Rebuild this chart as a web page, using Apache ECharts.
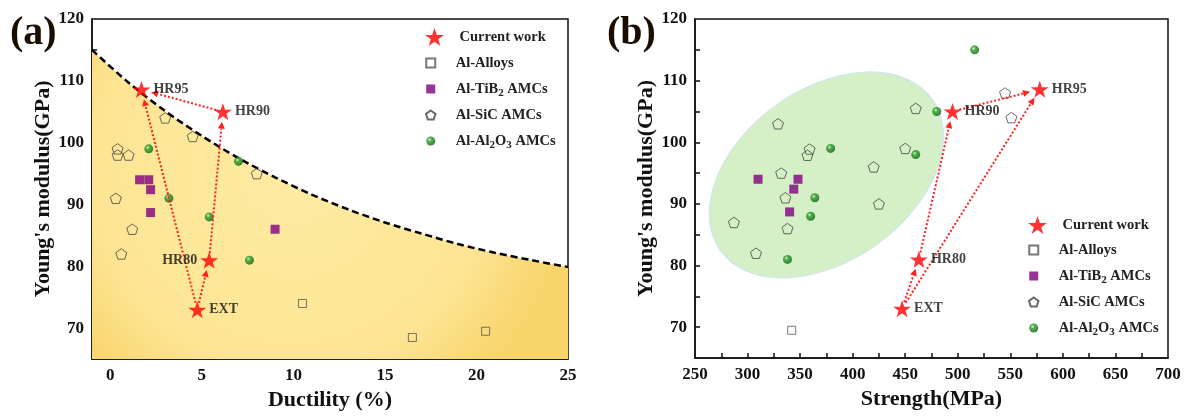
<!DOCTYPE html>
<html>
<head>
<meta charset="utf-8">
<script src="https://cdn.jsdelivr.net/npm/echarts@6/dist/echarts.min.js"></script>
<style>
  body { margin: 0; background: #fff; }
  #chart { width: 1187px; height: 416px; }
</style>
</head>
<body>
<div id="chart"></div>
<script>
// ---- data ----
// (a) ductility (%) vs Young's modulus (GPa)
const starNames = ['EXT', 'HR80', 'HR90', 'HR95']
const starDuct = [4.75, 5.4, 6.15, 1.7]
const starStrength = [447, 463, 495, 578]
const starModulus = [73, 81, 105, 108.6]

const alloyDuct = [10.5, 16.5, 20.5]
const alloyModA = [74, 68.5, 69.5]
const tib2Duct = [1.6, 2.1, 2.2, 2.2, 9.0]
const tib2ModA = [94, 94, 92.4, 88.7, 86]
const sicDuct = [0.4, 0.4, 1.0, 3.0, 4.5, 8.0, 0.3, 1.2, 0.6]
const sicModA = [99, 98, 98, 104, 101, 95, 91, 86, 82]
const al2o3Duct = [2.1, 7.0, 3.2, 5.4, 7.6]
const al2o3ModA = [99, 97, 91, 88, 81]

// dashed upper bound
const boundDuct = [-1, 1, 3, 5, 7, 9, 11, 13, 15, 17, 19, 21, 23, 25]
const boundMod = [115, 109.7, 105.1, 101.1, 97.5, 94.4, 91.6, 89.2, 87.1, 85.3, 83.6, 82.2, 81.0, 79.9]

// (b) strength (MPa) vs Young's modulus (GPa)
const alloyStr = [342]
const alloyModB = [69.5]
const tib2Str = [310, 348, 344, 340]
const tib2ModB = [94, 94, 92.4, 88.7]
const sicStr = [329, 359, 357, 332, 336, 420, 450, 460, 425, 287, 338, 308, 545, 551]
const sicModB = [103, 98.9, 97.9, 95, 91, 96, 99, 105.5, 90, 87, 86, 82, 108, 104]
const al2o3Str = [379, 460, 364, 480, 360, 338, 516]
const al2o3ModB = [99, 98, 91, 105, 88, 81, 115]

// arrows between the processing states
const arrowPairs = [['EXT', 'HR95'], ['EXT', 'HR80'], ['HR80', 'HR90'], ['HR90', 'HR95']]

// ticks
const ductLabels = [0, 5, 10, 15, 20, 25]
const ductTicks = [0, 2.5, 5, 7.5, 10, 12.5, 15, 17.5, 20, 22.5]
const strLabels = [250, 300, 350, 400, 450, 500, 550, 600, 650, 700]
const strTicks = [275, 300, 325, 350, 375, 400, 425, 450, 475, 500, 525, 550, 575, 600, 625, 650, 675]
const modLabels = [70, 80, 90, 100, 110, 120]
const modTicks = [70, 75, 80, 85, 90, 95, 100, 105, 110, 115]

// ---- styles ----
const FONT = '"Liberation Serif", "Times New Roman", serif'
const INK = '#111'
const STAR = 'path://M50,0 L61.8,35.1 L98.1,35.1 L68.8,56.7 L79.4,91 L50,70 L20.6,91 L31.2,56.7 L1.9,35.1 L38.2,35.1 Z'
const PENTA = 'path://M50,0 L97.6,34.5 L79.4,90.5 L20.6,90.5 L2.4,34.5 Z'
const SQUARE = 'path://M0,0 L10,0 L10,10 L0,10 Z'
const sphere = {
  type: 'radial', x: 0.38, y: 0.35, r: 0.7,
  colorStops: [
    { offset: 0, color: '#d8f5d0' },
    { offset: 0.3, color: '#2e9e2e' },
    { offset: 1, color: '#075f07' }
  ]
}
const ELLIPSE = { center: [375, 94.7], rx: 130, ry: 86, rot: 0.62 }

function zip(xs, ys) {
  return xs.map((x, i) => [x, ys[i]])
}

function starData(xs, leftSide) {
  return starNames.map((n, i) => ({
    name: n,
    value: [xs[i], starModulus[i]],
    label: { position: leftSide.indexOf(n) >= 0 ? 'left' : 'right' }
  }))
}

function arrowData(xs) {
  return arrowPairs.map(p => {
    const a = starNames.indexOf(p[0])
    const b = starNames.indexOf(p[1])
    return [xs[a], starModulus[a], xs[b], starModulus[b]]
  })
}

function renderArrow(params, api) {
  const a = api.coord([api.value(0), api.value(1)])
  const b = api.coord([api.value(2), api.value(3)])
  const dx = b[0] - a[0]
  const dy = b[1] - a[1]
  const len = Math.hypot(dx, dy)
  const ux = dx / len
  const uy = dy / len
  const s = [a[0] + ux * 7, a[1] + uy * 7]
  const e = [b[0] - ux * 10, b[1] - uy * 10]
  const base = [e[0] - ux * 7, e[1] - uy * 7]
  return {
    type: 'group',
    children: [
      { type: 'line', shape: { x1: s[0], y1: s[1], x2: base[0], y2: base[1] },
        style: { stroke: '#ff2020', lineWidth: 2, lineDash: [2, 2] } },
      { type: 'polygon',
        shape: { points: [e, [base[0] - uy * 3.5, base[1] + ux * 3.5], [base[0] + uy * 3.5, base[1] - ux * 3.5]] },
        style: { fill: '#ff2020' } }
    ]
  }
}

function renderEllipse(params, api) {
  const c = api.coord([api.value(0), api.value(1)])
  return {
    type: 'circle',
    x: c[0], y: c[1],
    scaleX: ELLIPSE.rx / ELLIPSE.ry,
    rotation: ELLIPSE.rot,
    shape: { cx: 0, cy: 0, r: ELLIPSE.ry },
    style: { fill: '#d5efc6', stroke: '#cfe6ee', lineWidth: 1 }
  }
}

function axis(gridIndex, min, max, labels, ticks, name, nameGap) {
  return {
    type: 'value', gridIndex, min, max, name,
    nameLocation: 'middle', nameGap,
    nameTextStyle: { fontFamily: FONT, fontWeight: 'bold', fontSize: 22, color: INK },
    axisLine: { show: true, onZero: false, lineStyle: { color: INK, width: 1.5 } },
    axisTick: { show: true, inside: true, length: 5, customValues: ticks, lineStyle: { color: INK, width: 1.5 } },
    axisLabel: { customValues: labels, fontFamily: FONT, fontWeight: 'bold', fontSize: 17, color: INK, margin: 8 },
    splitLine: { show: false }
  }
}

function scatter(name, g, data, symbol, size, itemStyle) {
  return { name, type: 'scatter', xAxisIndex: g, yAxisIndex: g, data, symbol, symbolSize: size,
    symbolKeepAspect: true, itemStyle, z: 3 }
}

function starSeries(g, data) {
  return {
    name: 'Current work', type: 'scatter', xAxisIndex: g, yAxisIndex: g, data,
    symbol: STAR, symbolSize: 18, symbolKeepAspect: true, z: 5,
    itemStyle: { color: '#ff0000' },
    label: { show: true, formatter: '{b}', distance: 3, fontFamily: FONT, fontWeight: 'bold', fontSize: 14, color: INK }
  }
}

const legendText = {
  fontFamily: FONT, fontWeight: 'bold', fontSize: 14.5, color: '#222', lineHeight: 20,
  rich: { s: { fontFamily: FONT, fontWeight: 'bold', fontSize: 11, lineHeight: 11, color: '#222', verticalAlign: 'bottom' } }
}
function legendFmt(name) {
  if (name === 'Al-TiB2 AMCs') return 'Al-TiB{s|2} AMCs'
  if (name === 'Al-Al2O3 AMCs') return 'Al-Al{s|2}O{s|3} AMCs'
  return name
}
const otherNames = ['Al-Alloys', 'Al-TiB2 AMCs', 'Al-SiC AMCs', 'Al-Al2O3 AMCs']

function legends(left, top1, top2) {
  return [
    { orient: 'vertical', left, top: top1, itemWidth: 40, itemHeight: 18, data: ['Current work'],
      textStyle: legendText, formatter: legendFmt, selectedMode: false },
    { orient: 'vertical', left, top: top2, itemWidth: 40, itemHeight: 9, itemGap: 6, data: otherNames,
      textStyle: legendText, formatter: legendFmt, selectedMode: false }
  ]
}

const chart = echarts.init(document.getElementById('chart'))

const option = {
  animation: false,
  title: [
    { text: '(a)', left: 5, top: 9, textStyle: { fontFamily: FONT, fontWeight: 'bold', fontSize: 40, color: '#1a0d00' } },
    { text: '(b)', left: 602, top: 9, textStyle: { fontFamily: FONT, fontWeight: 'bold', fontSize: 40, color: '#1a0d00' } }
  ],
  legend: legends(420, 22, 48).concat(legends(1023, 210, 235)),
  grid: [
    { left: 92, top: 19, width: 476, height: 341, show: true, borderColor: INK, borderWidth: 1.5 },
    { left: 695, top: 19, width: 473, height: 339, show: true, borderColor: INK, borderWidth: 1.5 }
  ],
  xAxis: [
    axis(0, -1, 25, ductLabels, ductTicks, 'Ductility (%)', 27),
    axis(1, 250, 700, strLabels, strTicks, 'Strength(MPa)', 27)
  ],
  yAxis: [
    axis(0, 65, 120, modLabels, modTicks, "Young's modulus(GPa)", 38),
    axis(1, 65, 120, modLabels, modTicks, "Young's modulus(GPa)", 38)
  ],
  series: [
    // (a)
    {
      type: 'line', xAxisIndex: 0, yAxisIndex: 0, data: zip(boundDuct, boundMod),
      smooth: 0.3, symbol: 'none', z: 1,
      lineStyle: { color: '#000', width: 2.5, type: [7, 4] },
      areaStyle: {
        origin: 'start',
        opacity: 1,
        color: { type: 'radial', x: 0.42, y: 0.4, r: 0.9,
          colorStops: [{ offset: 0, color: '#feeca2' }, { offset: 0.7, color: '#fde594' }, { offset: 1, color: '#f8d46a' }] }
      }
    },
    scatter('Al-Alloys', 0, zip(alloyDuct, alloyModA), SQUARE, 8, { color: 'rgba(0,0,0,0)', borderColor: '#555', borderWidth: 1 }),
    scatter('Al-TiB2 AMCs', 0, zip(tib2Duct, tib2ModA), SQUARE, 9, { color: '#800080' }),
    scatter('Al-SiC AMCs', 0, zip(sicDuct, sicModA), PENTA, 11, { color: 'rgba(0,0,0,0)', borderColor: '#444', borderWidth: 1 }),
    scatter('Al-Al2O3 AMCs', 0, zip(al2o3Duct, al2o3ModA), 'circle', 9, { color: sphere }),
    { type: 'custom', xAxisIndex: 0, yAxisIndex: 0, data: arrowData(starDuct), renderItem: renderArrow, z: 4,
      encode: { x: [0, 2], y: [1, 3] }, silent: true },
    starSeries(0, starData(starDuct, ['HR80'])),
    // (b)
    { type: 'custom', xAxisIndex: 1, yAxisIndex: 1, data: [ELLIPSE.center], renderItem: renderEllipse, z: 1, silent: true },
    scatter('Al-Alloys', 1, zip(alloyStr, alloyModB), SQUARE, 8, { color: 'rgba(0,0,0,0)', borderColor: '#555', borderWidth: 1 }),
    scatter('Al-TiB2 AMCs', 1, zip(tib2Str, tib2ModB), SQUARE, 9, { color: '#800080' }),
    scatter('Al-SiC AMCs', 1, zip(sicStr, sicModB), PENTA, 11, { color: 'rgba(0,0,0,0)', borderColor: '#444', borderWidth: 1 }),
    scatter('Al-Al2O3 AMCs', 1, zip(al2o3Str, al2o3ModB), 'circle', 9, { color: sphere }),
    { type: 'custom', xAxisIndex: 1, yAxisIndex: 1, data: arrowData(starStrength), renderItem: renderArrow, z: 4,
      encode: { x: [0, 2], y: [1, 3] }, silent: true },
    starSeries(1, starData(starStrength, []))
  ]
}

chart.setOption(option)
</script>
</body>
</html>
